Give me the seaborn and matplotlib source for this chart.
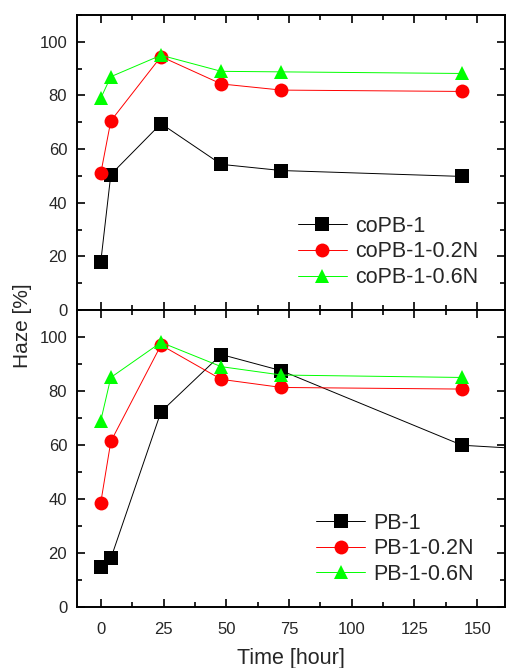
import matplotlib
matplotlib.use("Agg")
import matplotlib.pyplot as plt
import seaborn as sns
import pandas as pd
from matplotlib.ticker import MultipleLocator

# ---- data ----
time_top = [0, 4, 24, 48, 72, 144]
copb1 = [18, 50.5, 69.5, 54.3, 52.0, 49.8]
copb1_02n = [51, 70.5, 94.5, 84.3, 82.0, 81.5]
copb1_06n = [79, 87, 95, 89, 88.8, 88.2]
labels_top = ["coPB-1", "coPB-1-0.2N", "coPB-1-0.6N"]

time_pb1 = [0, 4, 24, 48, 72, 144, 168]
pb1 = [15, 18, 72.3, 93.5, 87.5, 59.9, 58.6]
time_bot = [0, 4, 24, 48, 72, 144]
pb1_02n = [38.7, 61.3, 97, 84.3, 81.3, 80.7]
pb1_06n = [69, 85, 98, 89, 85.9, 85.0]
labels_bot = ["PB-1", "PB-1-0.2N", "PB-1-0.6N"]

colors = ["#000000", "#ff0000", "#00ff00"]
markers = ["s", "o", "^"]

sns.set_style("white")
plt.rcParams["font.family"] = ["Liberation Sans", "DejaVu Sans"]

def long_df(xs_list, ys_list, labels):
    rows = []
    for xs, ys, lab in zip(xs_list, ys_list, labels):
        for x, y in zip(xs, ys):
            rows.append({"time": x, "haze": y, "series": lab})
    return pd.DataFrame(rows)

df_top = long_df([time_top] * 3, [copb1, copb1_02n, copb1_06n], labels_top)
df_bot = long_df([time_pb1, time_bot, time_bot], [pb1, pb1_02n, pb1_06n], labels_bot)

fig = plt.figure(figsize=(5.13, 6.68), dpi=100)
ax1 = fig.add_axes([0.150, 0.536, 0.834, 0.4415])
ax2 = fig.add_axes([0.150, 0.0913, 0.834, 0.4447], sharex=ax1)

for ax, df, labels, lx in [(ax1, df_top, labels_top, 0.957), (ax2, df_bot, labels_bot, 0.947)]:
    sns.lineplot(data=df, x="time", y="haze", hue="series", style="series",
                 hue_order=labels, style_order=labels,
                 palette=dict(zip(labels, colors)),
                 markers=dict(zip(labels, markers)),
                 dashes=False, markersize=10, linewidth=0.7,
                 markeredgewidth=0, ax=ax, sort=False, estimator=None)
    ax.set_ylim(0, 110)
    ax.set_xlim(-9.5, 161)
    ax.yaxis.set_major_locator(MultipleLocator(20))
    ax.yaxis.set_minor_locator(MultipleLocator(10))
    ax.xaxis.set_major_locator(MultipleLocator(25))
    ax.xaxis.set_minor_locator(MultipleLocator(12.5))
    ax.tick_params(which="both", direction="in", top=True, right=True,
                   bottom=True, left=True, labelsize=12, color="black")
    ax.tick_params(which="major", length=6, width=1.2)
    ax.tick_params(which="minor", length=3.5, width=1.2)
    ax.tick_params(axis="y", which="both", pad=7)
    ax.tick_params(axis="x", which="both", pad=11)
    for s in ax.spines.values():
        s.set_color("black")
        s.set_linewidth(1.4)
    ax.set_xlabel("")
    ax.set_ylabel("")
    handles, labs = ax.get_legend_handles_labels()
    for h in handles:
        h.set_markersize(10)
    ax.legend(handles, labs, loc="lower right", bbox_to_anchor=(lx, 0.045),
              borderaxespad=0, frameon=False, fontsize=15.5,
              handlelength=2.3, handletextpad=0.35, labelspacing=0.22)
    ax.set_facecolor("white")

ax1.tick_params(labelbottom=False)
ax2.set_xlabel("Time [hour]", fontsize=15.5, labelpad=8)
fig.text(0.044, 0.513, "Haze [%]", rotation=90, va="center", ha="center", fontsize=15)

fig.savefig("out.png", dpi=100, facecolor="white")
